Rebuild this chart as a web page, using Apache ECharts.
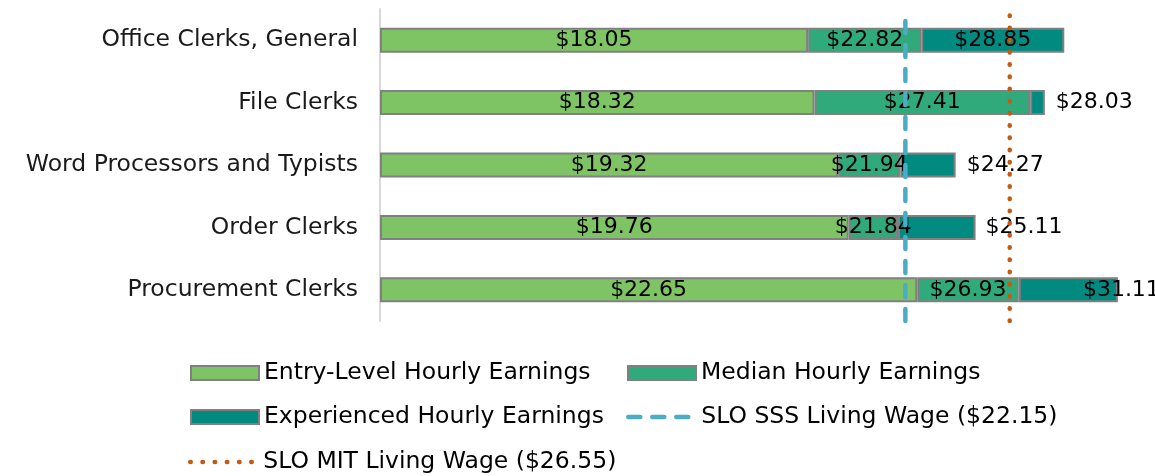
<!DOCTYPE html>
<html lang="en">
<head>
  <meta charset="UTF-8">
  <title>Clerk hourly earnings</title>
  <script src="https://cdn.jsdelivr.net/npm/echarts@6/dist/echarts.min.js"></script>
  <style>
    html, body { margin: 0; padding: 0; background: #fff; }
    #main { width: 1155px; height: 476px; }
  </style>
</head>
<body>
  <div id="main"></div>
  <script>
    // data
    var aJobs = ['Office Clerks, General', 'File Clerks', 'Word Processors and Typists', 'Order Clerks', 'Procurement Clerks'];
    var aEntry = [18.05, 18.32, 19.32, 19.76, 22.65];
    var aMedian = [22.82, 27.41, 21.94, 21.84, 26.93];
    var aExperienced = [28.85, 28.03, 24.27, 25.11, 31.11];
    var nSSS = 22.15;
    var nMIT = 26.55;
    var aSeriesNames = ['Entry-Level Hourly Earnings', 'Median Hourly Earnings', 'Experienced Hourly Earnings',
      'SLO SSS Living Wage ($22.15)', 'SLO MIT Living Wage ($26.55)'];

    var sFont = 'DejaVu Sans';
    var nFontSize = 23.5;
    var nLabelSize = 22;

    var oSSSLine = { color: '#4bacc6', width: 4.5, type: [12, 12], cap: 'round' };
    var oMITLine = { color: '#c55a11', width: 4.5, type: [0.5, 11.7], cap: 'round' };

    function money(v) {
      return '$' + v.toFixed(2);
    }

    // stacked segments: each bar piece runs from the previous level to the next
    var aMedianSeg = aMedian.map(function (v, i) { return +(v - aEntry[i]).toFixed(2); });
    var aExpSeg = aExperienced.map(function (v, i) { return +(v - aMedian[i]).toFixed(2); });

    // where the experienced label sits for each bar
    var aExpLabel = [
      { position: 'inside' },
      { position: 'right', distance: 11 },
      { position: 'right', distance: 11 },
      { position: 'right', distance: 10 },
      { position: 'right', distance: 0, offset: [-35, 0] }
    ];

    var oLabel = {
      show: true,
      position: 'inside',
      color: '#000',
      fontFamily: sFont,
      fontSize: nLabelSize
    };

    function barSeries(name, data, color, aFull) {
      return {
        name: name,
        type: 'bar',
        stack: 'pay',
        barWidth: 25,
        data: data,
        itemStyle: { color: color, borderColor: '#808080', borderWidth: 2 },
        label: Object.assign({}, oLabel, {
          formatter: function (p) { return money(aFull[p.dataIndex]); }
        }),
        z: 2
      };
    }

    var oExpSeries = barSeries(aSeriesNames[2], aExpSeg.map(function (v, i) {
      return { value: v, label: aExpLabel[i] };
    }), '#008a80', aExperienced);

    var oChart = echarts.init(document.getElementById('main'));

    var oHideDot = { color: 'rgba(0,0,0,0)', borderWidth: 0, opacity: 0 };
    var aLegendSlots = [
      { item: { name: aSeriesNames[0], icon: 'rect' }, left: 190, top: 361 },
      { item: { name: aSeriesNames[1], icon: 'rect' }, left: 627, top: 361 },
      { item: { name: aSeriesNames[2], icon: 'rect' }, left: 190, top: 405 },
      { item: { name: aSeriesNames[3], itemStyle: oHideDot, lineStyle: oSSSLine }, left: 626, top: 405 },
      { item: { name: aSeriesNames[4], itemStyle: oHideDot, lineStyle: oMITLine }, left: 188, top: 450 }
    ];

    var oOpt = {
      animation: false,
      grid: {
        left: 380,
        right: 16,
        top: 9,
        bottom: 155,
        outerBoundsMode: 'none'
      },
      legend: aLegendSlots.map(function (s) {
        return {
          data: [s.item],
          left: s.left,
          top: s.top,
          padding: 0,
          itemWidth: 68,
          itemHeight: 14,
          selectedMode: false,
          textStyle: { color: '#000', fontFamily: sFont, fontSize: nFontSize, lineHeight: 24 }
        };
      }),
      xAxis: {
        type: 'value',
        min: 0,
        max: 32,
        show: false
      },
      yAxis: [
        {
          type: 'category',
          data: aJobs,
          inverse: true,
          axisLine: { show: true, lineStyle: { color: '#d9d9d9', width: 2 } },
          axisTick: { show: false },
          axisLabel: { color: '#1a1a1a', fontFamily: sFont, fontSize: nFontSize, margin: 22 },
          splitLine: { show: false }
        },
        {
          type: 'value',
          min: 0,
          max: 1,
          show: false
        }
      ],
      series: [
        barSeries(aSeriesNames[0], aEntry, '#7fc464', aEntry),
        barSeries(aSeriesNames[1], aMedianSeg, '#30aa7a', aMedian),
        oExpSeries,
        {
          name: aSeriesNames[3],
          type: 'line',
          xAxisIndex: 0,
          yAxisIndex: 1,
          symbol: 'none',
          data: [[nSSS, 0], [nSSS, 1]],
          lineStyle: oSSSLine,
          itemStyle: { color: oSSSLine.color },
          z: 5
        },
        {
          name: aSeriesNames[4],
          type: 'line',
          xAxisIndex: 0,
          yAxisIndex: 1,
          symbol: 'none',
          data: [[nMIT, 0], [nMIT, 1]],
          lineStyle: oMITLine,
          itemStyle: { color: oMITLine.color },
          z: 5
        }
      ]
    };

    oChart.setOption(oOpt);
  </script>
</body>
</html>
